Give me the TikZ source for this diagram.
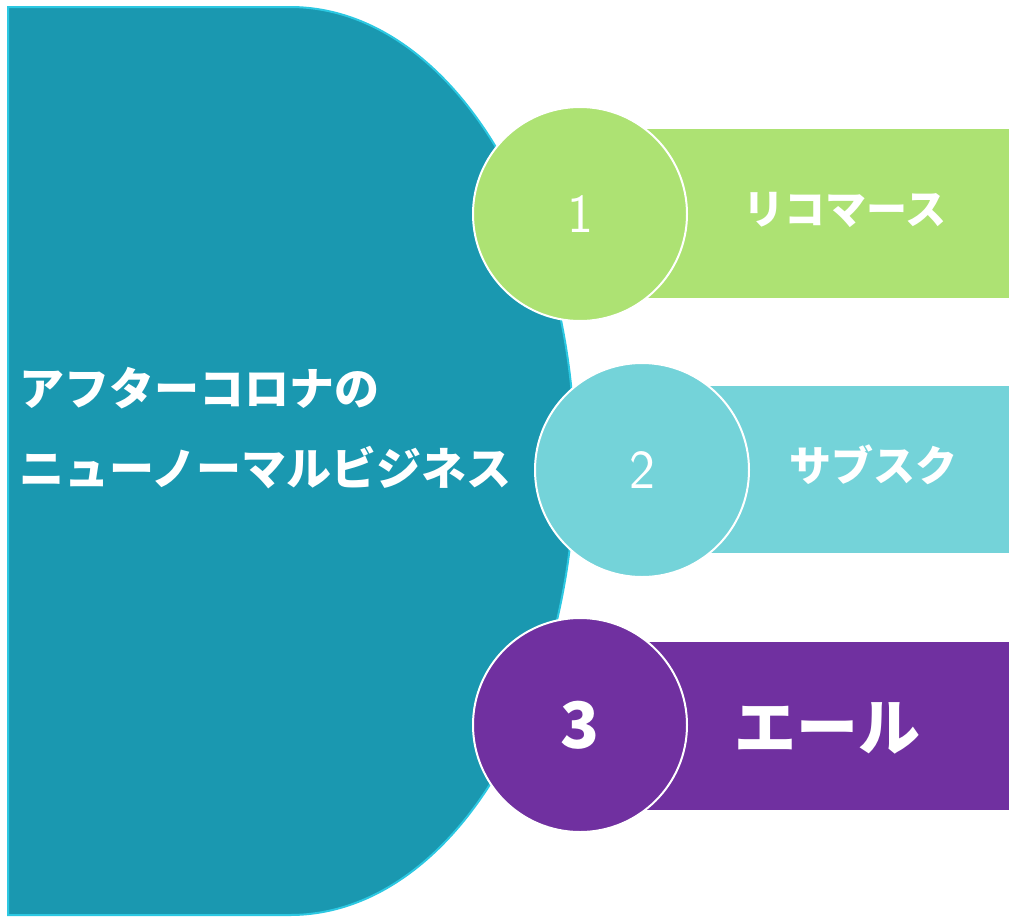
\documentclass[tikz,border=0pt]{standalone}
\usepackage{fontspec}
\newfontfamily\jp{Noto Sans CJK JP}
\definecolor{tealmain}{HTML}{1A98B0}
\definecolor{tealline}{HTML}{2CC8E2}
\definecolor{cgreen}{HTML}{ADE273}
\definecolor{ccyan}{HTML}{74D3D9}
\definecolor{cpurple}{HTML}{7030A0}
\tikzset{
  numcircle/.style={circle, draw=white, line width=2pt, minimum size=214pt, inner sep=0pt, text=white},
  label/.style={text=white, inner sep=0pt},
}
\begin{document}
\begin{tikzpicture}[x=1pt,y=-1pt]
\useasboundingbox (0,0) rectangle (1009,916);
% main shape
\path[fill=tealmain, draw=tealline, line width=2pt]
  (8,7) -- (290,7) arc[start angle=-90, end angle=90, x radius=285, y radius=454]
  -- (8,915) -- cycle;
% bands
\fill[cgreen] (580,129) rectangle (1009,298);
\fill[ccyan] (642,386) rectangle (1009,553);
\fill[cpurple] (580,642) rectangle (1009,810);
% circles
\node[numcircle, fill=cgreen, font=\sffamily\fontsize{55}{60}\selectfont] (c1) at (580,214) {1};
\node[numcircle, fill=ccyan, font=\sffamily\fontsize{55}{60}\selectfont] (c2) at (642,470) {2};
\node[numcircle, fill=cpurple, font=\jp\bfseries\fontsize{64}{70}\selectfont] (c3) at (580,725) {3};
% labels
\node[label, font=\jp\bfseries\fontsize{41}{45}\selectfont] (l1) at (845,210) {リコマース};
\node[label, font=\jp\bfseries\fontsize{42}{46}\selectfont] (l2) at (873,465) {サブスク};
\node[label, font=\jp\bfseries\fontsize{62}{66}\selectfont] (l3) at (827,728) {エール};
\node[label, anchor=west, align=left, font=\jp\bfseries\fontsize{45}{80}\selectfont] (title) at (19,428) {アフターコロナの\\ニューノーマルビジネス};
\end{tikzpicture}
\end{document}
